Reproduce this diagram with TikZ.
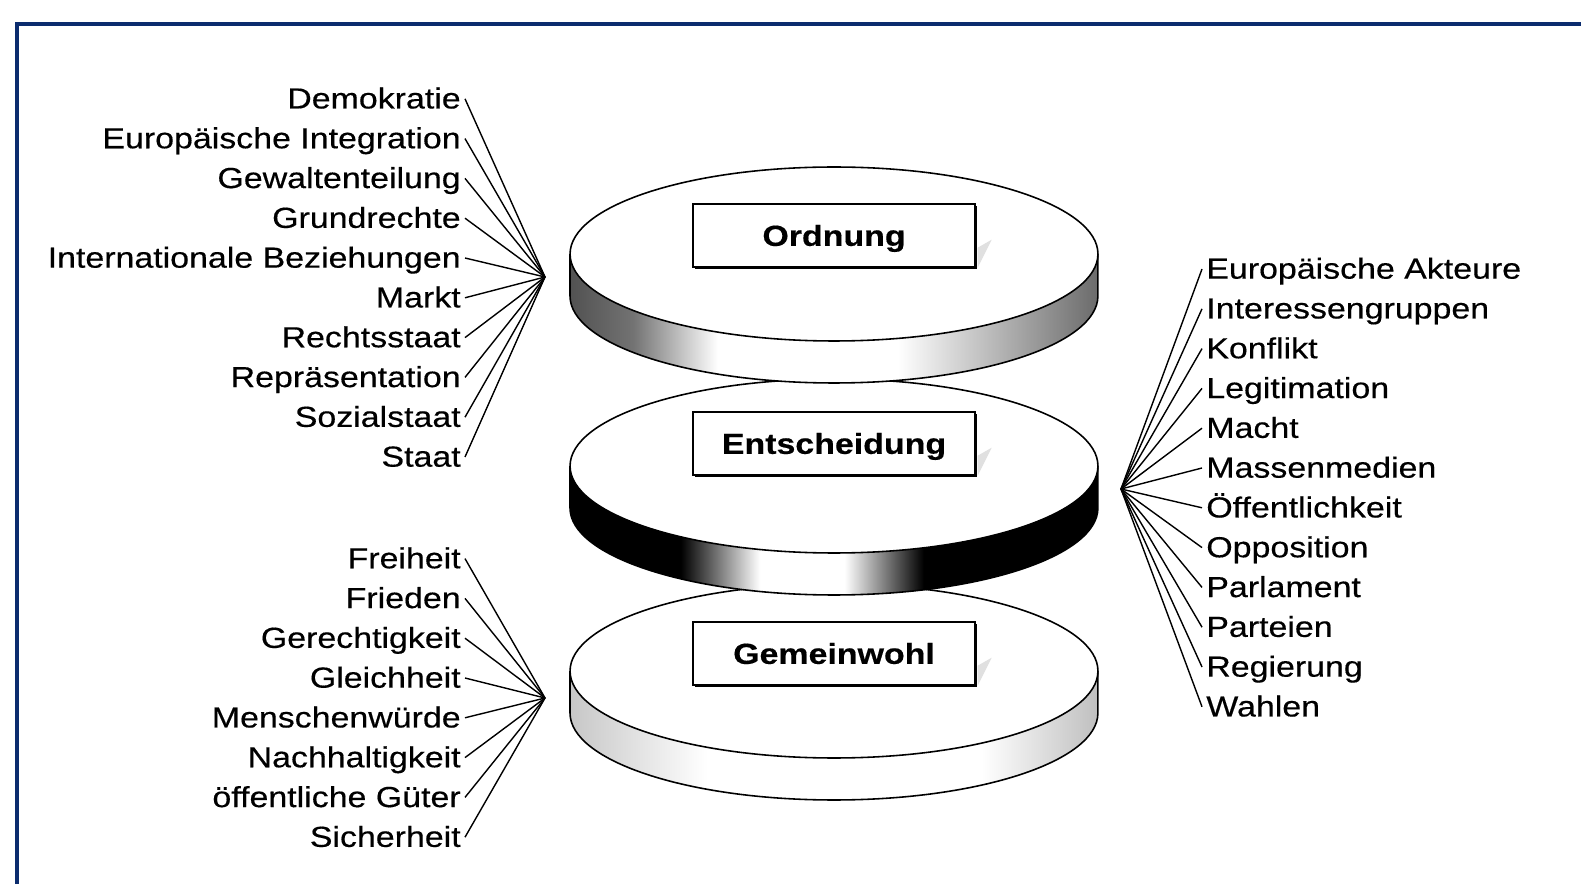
\documentclass[tikz,border=0pt]{standalone}
\usepackage{fontspec}
\newfontfamily\labfont[FakeStretch=1.17,FakeBold=0.4]{Liberation Sans}
\usetikzlibrary{calc,shadows}
\definecolor{framenavy}{HTML}{0B2C6E}
% side bands of the three disks (middle 50bp = the band)
\pgfdeclarehorizontalshading{ordside}{100bp}{color(0bp)=(black!68); color(25bp)=(black!68); color(31bp)=(black!55); color(39bp)=(white); color(56bp)=(white); color(75bp)=(black!58); color(100bp)=(black!58)}
\pgfdeclarehorizontalshading{entside}{100bp}{color(0bp)=(black); color(35.5bp)=(black); color(43bp)=(white); color(51bp)=(white); color(58.5bp)=(black); color(100bp)=(black)}
\pgfdeclarehorizontalshading{gemside}{100bp}{color(0bp)=(black!22); color(25bp)=(black!22); color(38bp)=(white); color(64bp)=(white); color(75bp)=(black!25); color(100bp)=(black!25)}
% #1 = y of the top face, #2 = shading of the band
\newcommand{\platte}[2]{%
  \shade[shading=#2] (570,#1) -- ++(0,42) arc[start angle=180,end angle=360,x radius=5.28cm,y radius=1.74cm] -- ++(0,-42) arc[start angle=0,end angle=-180,x radius=5.28cm,y radius=1.74cm] -- cycle;
  \draw (570,#1) -- ++(0,42) arc[start angle=180,end angle=360,x radius=5.28cm,y radius=1.74cm] -- ++(0,-42);
  \draw[fill=white] (834,#1) ellipse[x radius=5.28cm,y radius=1.74cm];
}

\begin{document}
\begin{tikzpicture}[x=0.02cm,y=-0.02cm,line width=0.9pt,
    item/.style={font=\labfont\fontsize{16.5pt}{19pt}\selectfont, inner sep=2pt, text height=12pt, text depth=1pt},
    spoke/.style={line width=0.8pt},
    titlebox/.style={draw, fill=white, line width=0.8pt, minimum width=5.64cm, minimum height=1.26cm,
      text height=12pt, text depth=0.2pt,
      font=\labfont\bfseries\fontsize{16.5pt}{19pt}\selectfont,
      drop shadow={shadow xshift=1pt, shadow yshift=-1pt, fill=black, opacity=1}}]
  \useasboundingbox (0,0) rectangle (1581,884);
  \clip (0,0) rectangle (1581,884);
  \draw[framenavy, line width=2.3pt] (17,24) rectangle (1640,940);

  % disks, from the bottom up
  \platte{671}{gemside}
  \node[titlebox] (gem) at (834,653.5) {Gemeinwohl};
  \platte{466}{entside}
  \node[titlebox] (ent) at (834,443.5) {Entscheidung};
  \platte{254}{ordside}
  \node[titlebox] (ord) at (834,235.5) {Ordnung};

  \foreach \b in {ord,ent,gem}
    \fill[black!12] ($(\b.south east)+(2,0)$) -- ($(\b.south east)+(16,-28)$) -- ($(\b.south east)+(2,-20)$) -- cycle;

  \coordinate (fanA) at (545,277);
  \coordinate (fanB) at (545,698);
  \coordinate (fanC) at (1121,489);

  \foreach \lbl [count=\i] in {Demokratie,Europäische Integration,Gewaltenteilung,Grundrechte,Internationale Beziehungen,Markt,Rechtsstaat,Repräsentation,Sozialstaat,Staat}{
    \node[item, anchor=east] (a\i) at (465,{98.8+39.8*(\i-1)}) {\lbl};
    \draw[spoke] (a\i.east) -- (fanA);
  }
  \foreach \lbl [count=\i] in {Freiheit,Frieden,Gerechtigkeit,Gleichheit,Menschenwürde,Nachhaltigkeit,öffentliche Güter,Sicherheit}{
    \node[item, anchor=east] (b\i) at (465,{558.6+39.8*(\i-1)}) {\lbl};
    \draw[spoke] (b\i.east) -- (fanB);
  }
  \foreach \lbl [count=\i] in {Europäische Akteure,Interessengruppen,Konflikt,Legitimation,Macht,Massenmedien,Öffentlichkeit,Opposition,Parlament,Parteien,Regierung,Wahlen}{
    \node[item, anchor=west] (c\i) at (1202,{269+39.8*(\i-1)}) {\lbl};
    \draw[spoke] (c\i.west) -- (fanC);
  }
\end{tikzpicture}
\end{document}
